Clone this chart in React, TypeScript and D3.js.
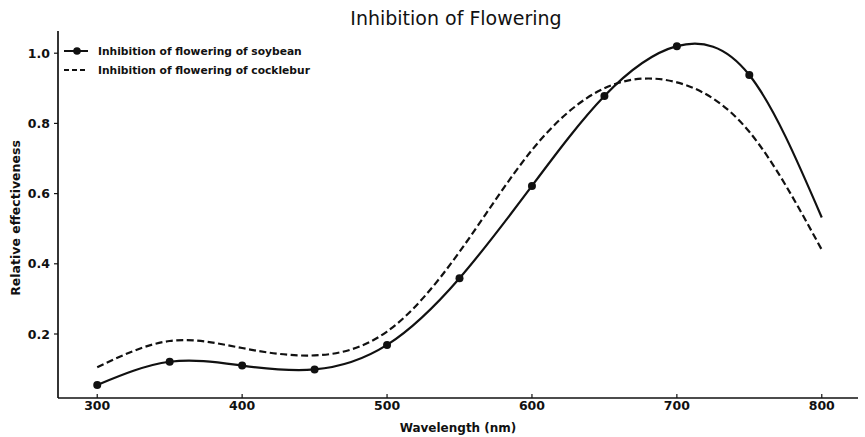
import React from "react";
import * as d3 from "d3";

const wavelengths = [300, 350, 400, 450, 500, 550, 600, 650, 700, 750, 800];
const soybean = [0.055, 0.121, 0.11, 0.099, 0.169, 0.359, 0.622, 0.878, 1.02, 0.938, 0.532];
const cocklebur = [0.105, 0.18, 0.16, 0.139, 0.207, 0.434, 0.724, 0.9, 0.917, 0.776, 0.44];
const soybeanMarked = [300, 350, 400, 450, 500, 550, 600, 650, 700, 750];
const xTicks = [300, 400, 500, 600, 700, 800];
const yTicks = [0.2, 0.4, 0.6, 0.8, 1.0];
const seriesNames = ["Inhibition of flowering of soybean", "Inhibition of flowering of cocklebur"];
const title = "Inhibition of Flowering";
const xLabel = "Wavelength (nm)";
const yLabel = "Relative effectiveness";

const W = 865;
const H = 437;
const left = 61;
const right = 858;
const top = 31;
const bottom = 398;
const font = "'DejaVu Sans', sans-serif";
const ink = "#111";

export default function App() {
  const x = d3.scaleLinear().domain([275, 825]).range([left, right]);
  const y = d3.scaleLinear().domain([0, 1]).range([404.2, 53.2]);

  const line = d3
    .line<number>()
    .x((_, i) => x(wavelengths[i]))
    .y((d) => y(d))
    .curve(d3.curveNatural);

  const soyPath = line(soybean) || "";
  const cockPath = line(cocklebur) || "";

  return (
    <svg
      width={W}
      height={H}
      style={{ position: "absolute", left: 0, top: 0, background: "#fff" }}
      fontFamily={font}
    >
      <rect x={0} y={0} width={W} height={H} fill="#ffffff" />
      <text x={456} y={25} textAnchor="middle" fontSize={19} fill={ink}>
        {title}
      </text>

      {/* curves */}
      <path d={cockPath} fill="none" stroke={ink} strokeWidth={2.2} strokeDasharray="7,3.5" />
      <path d={soyPath} fill="none" stroke={ink} strokeWidth={2.2} />
      {soybeanMarked.map((w) => {
        const i = wavelengths.indexOf(w);
        return <circle key={w} cx={x(w)} cy={y(soybean[i])} r={4} fill={ink} />;
      })}

      {/* axes */}
      <line x1={left - 3} x2={left - 3} y1={top} y2={bottom} stroke={ink} strokeWidth={1.7} />
      <line x1={left - 3} x2={right} y1={bottom} y2={bottom} stroke={ink} strokeWidth={1.7} />
      {xTicks.map((t) => (
        <g key={t}>
          <line x1={x(t)} x2={x(t)} y1={bottom} y2={bottom - 4} stroke={ink} strokeWidth={1.2} />
          <text x={x(t)} y={bottom + 12} textAnchor="middle" fontSize={12.5} fontWeight="bold" fill={ink}>
            {t}
          </text>
        </g>
      ))}
      {yTicks.map((t) => (
        <g key={t}>
          <line x1={left - 7} x2={left - 3} y1={y(t)} y2={y(t)} stroke={ink} strokeWidth={1.2} />
          <text x={50} y={y(t) + 4.5} textAnchor="end" fontSize={12.5} fontWeight="bold" fill={ink}>
            {t.toFixed(1)}
          </text>
        </g>
      ))}
      <text x={458} y={432} textAnchor="middle" fontSize={12} fontWeight="bold" fill={ink}>
        {xLabel}
      </text>
      <text
        transform={`translate(20,${218}) rotate(-90)`}
        textAnchor="middle"
        fontSize={12.5}
        fontWeight="bold"
        fill={ink}
      >
        {yLabel}
      </text>

      {/* legend */}
      <g>
        <line x1={64} x2={88} y1={51} y2={51} stroke={ink} strokeWidth={2} />
        <circle cx={77} cy={51} r={3.8} fill={ink} />
        <text x={98} y={55} fontSize={10.7} fontWeight="bold" fill={ink}>
          {seriesNames[0]}
        </text>
        <line x1={64} x2={88} y1={70} y2={70} stroke={ink} strokeWidth={2} strokeDasharray="5,3" />
        <text x={98} y={74} fontSize={10.7} fontWeight="bold" fill={ink}>
          {seriesNames[1]}
        </text>
      </g>
    </svg>
  );
}
